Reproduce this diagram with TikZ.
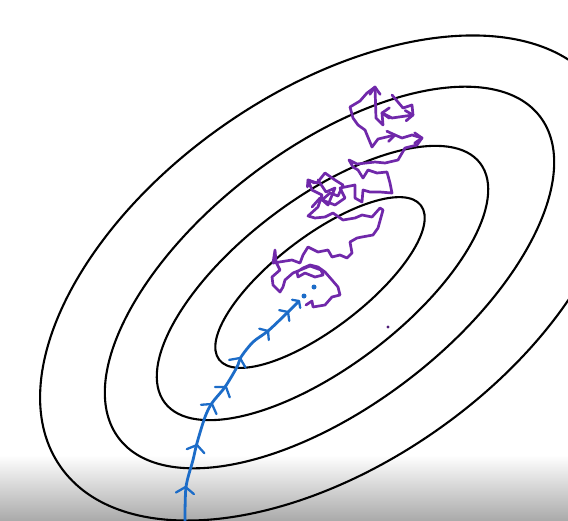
\documentclass[tikz,border=0pt]{standalone}
\usetikzlibrary{calc}
\definecolor{pathblue}{RGB}{28,108,200}
\definecolor{walkpurple}{RGB}{112,40,170}
\tikzset{
  contour/.style={black,line width=2.1pt},
  momentum/.style={pathblue,line width=2.8pt,line cap=round,line join=round},
  walk/.style={walkpurple,line width=2.7pt,line cap=round,line join=round}
}
\newcommand{\chevmark}[4][11]{\draw[#2] ($(#3)+({#4+125}:#1)$) -- (#3) -- ($(#3)+({#4-125}:#1)$);}
\newcommand{\tipmark}[4][9]{\draw[#2] ($(#3)+({#4+145}:#1)$) -- (#3) -- ($(#3)+({#4-145}:#1)$);}
\begin{document}
\begin{tikzpicture}[x=1pt,y=-1pt]
\useasboundingbox (0,0) rectangle (568,520);
\fill[white] (0,0) rectangle (568,520);
\shade[top color=white,bottom color=black!33] (0,455) rectangle (568,520);
\begin{scope}
\clip (0,0) rectangle (568,520);
\draw[contour,rotate around={37.4:(320,282.5)}] (320,282.5) ellipse [x radius=127pt,y radius=46pt];
\draw[contour,rotate around={37.2:(322.5,283)}] (322.5,283) ellipse [x radius=198pt,y radius=84pt];
\draw[contour,rotate around={37.4:(329.5,277.5)}] (329.5,277.5) ellipse [x radius=265pt,y radius=129pt];
\draw[contour,rotate around={35:(330,278)}] (330,278) ellipse [x radius=329pt,y radius=186pt];
\end{scope}
% blue path
\draw[momentum] plot[smooth,tension=0.5] coordinates {(185,522) (186,487) (193,460) (197,443) (205,417) (212,403) (225,387) (237,367) (241,357) (253,342) (268,331) (287,313) (298,302)};
\chevmark{momentum,line width=2.3pt}{185.5,487}{-85}
\chevmark{momentum,line width=2.3pt}{197,445}{-77}
\chevmark{momentum,line width=2.3pt}{212,404}{-59}
\chevmark{momentum,line width=2.3pt}{226,387}{-55}
\chevmark{momentum,line width=2.3pt}{240,358}{-65}
\chevmark[9]{momentum,line width=2.3pt}{268,331}{-40}
\chevmark[9]{momentum,line width=2.3pt}{288,312}{-43}
\chevmark[7]{momentum,line width=2.3pt}{299,301}{-45}
\fill[pathblue] (304,296) circle (2.5);
\fill[pathblue] (314,287) circle (2.5);
% purple random walk
\draw[walk] plot coordinates {(306,305) (312,301) (313,307) (325,305) (332,297) (340,295) (338,287) (332,280) (325,272) (318,267) (310,265) (303,268) (297,272) (298,277) (305,273) (315,277) (323,275) (321,270) (310,266) (293,273) (285,280) (283,287) (280,292) (273,285) (272,277) (280,270) (276,262) (275,250) (273,263) (292,260) (300,263) (303,255) (308,247) (318,252) (328,250) (332,257) (340,255) (347,258) (352,253) (350,242) (357,238) (362,237) (373,235) (378,228) (383,210) (380,208) (372,217) (362,215) (355,218) (343,220) (333,213) (325,217) (315,218) (308,216) (318,207) (322,195) (312,190) (308,180) (317,183) (325,173) (335,180) (343,185) (338,196) (330,193) (322,200) (335,205) (345,198) (340,188) (355,185) (355,198) (362,202) (363,190) (370,192) (380,192) (392,193) (390,183) (387,172) (377,173) (368,170) (363,178) (358,170) (353,167) (349,160) (357,164) (375,162) (385,163) (398,160) (405,148) (417,145) (422,138) (412,135) (402,138) (395,135) (378,139) (372,147) (365,130) (358,125) (353,118) (350,107) (360,101) (367,93) (375,87) (376,118) (383,125) (382,113) (392,118) (413,115) (412,105) (403,108) (392,95)};
\draw[walk] plot coordinates {(318,180) (326,192) (335,188) (328,205) (320,198) (312,207)};
\tipmark{walk}{422,138}{0}
\tipmark{walk}{413,115}{-5}
\tipmark{walk}{375,87}{-90}
\tipmark{walk}{382,113}{180}
\tipmark{walk}{395,135}{-10}
\tipmark[7]{walk}{308,180}{-120}
\fill[walkpurple!70!black] (388,327) circle (1.6);
\end{tikzpicture}
\end{document}
